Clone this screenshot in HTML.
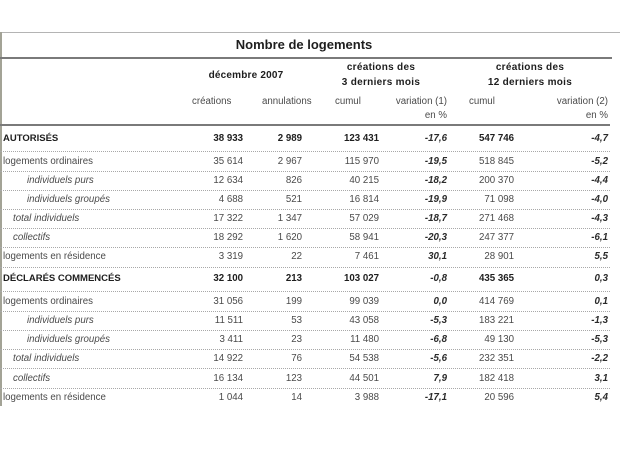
<!DOCTYPE html>
<html>
<head>
<meta charset="utf-8">
<style>
html,body{margin:0;padding:0;background:#fff;}
body{width:620px;height:465px;position:relative;overflow:hidden;font-family:"Liberation Sans",Arial,sans-serif;font-size:9.7px;color:#4a4a4a;}
.t{position:absolute;height:19px;line-height:19px;white-space:nowrap;}
.r{text-align:right;}
.b{font-weight:bold;color:#1e1e1e;}
.i{font-style:italic;}
.bi{font-weight:bold;font-style:italic;color:#2a2a2a;}
.hl{position:absolute;left:0;width:610px;height:0;}
.dot{border-top:1px dotted #a8a8a8;}
.sol{border-top:2px solid #7a7a7a;}
</style>
</head>
<body>
<!-- frame -->
<div style="position:absolute;left:0;top:32px;width:620px;height:0;border-top:1px solid #b4b4b4;"></div>
<div style="position:absolute;left:0;top:32px;width:2px;height:374px;background:#a3a396;"></div>

<!-- title -->
<div class="t b" style="left:0;width:608px;top:35px;text-align:center;font-size:13px;">Nombre de logements</div>
<div class="hl sol" style="top:57px;width:612px;"></div>

<!-- group headers -->
<div class="t b" style="left:196px;width:100px;top:66px;text-align:center;font-size:10px;letter-spacing:0.2px;">décembre 2007</div>
<div class="t b" style="left:331px;width:100px;top:58px;text-align:center;font-size:10px;letter-spacing:0.3px;">créations des</div>
<div class="t b" style="left:331px;width:100px;top:73px;text-align:center;font-size:10px;letter-spacing:0.3px;">3 derniers mois</div>
<div class="t b" style="left:480px;width:100px;top:58px;text-align:center;font-size:10px;letter-spacing:0.3px;">créations des</div>
<div class="t b" style="left:480px;width:100px;top:73px;text-align:center;font-size:10px;letter-spacing:0.3px;">12 derniers mois</div>

<!-- column headers -->
<div class="t" style="left:192px;top:92px;">créations</div>
<div class="t" style="left:262px;top:92px;">annulations</div>
<div class="t" style="left:335px;top:92px;">cumul</div>
<div class="t r" style="right:173px;top:92px;">variation (1)</div>
<div class="t r" style="right:173px;top:106px;">en %</div>
<div class="t" style="left:469px;top:92px;">cumul</div>
<div class="t r" style="right:12px;top:92px;">variation (2)</div>
<div class="t r" style="right:12px;top:106px;">en %</div>

<div class="hl sol" style="top:124px;"></div>

<!-- row lines -->
<div class="hl dot" style="top:151px;"></div>
<div class="hl dot" style="top:171px;"></div>
<div class="hl dot" style="top:190px;"></div>
<div class="hl dot" style="top:209px;"></div>
<div class="hl dot" style="top:228px;"></div>
<div class="hl dot" style="top:247px;"></div>
<div class="hl dot" style="top:267px;"></div>
<div class="hl dot" style="top:291px;"></div>
<div class="hl dot" style="top:311px;"></div>
<div class="hl dot" style="top:330px;"></div>
<div class="hl dot" style="top:349px;"></div>
<div class="hl dot" style="top:368px;"></div>
<div class="hl dot" style="top:388px;"></div>

<!-- Row: AUTORISÉS (center 138) -->
<div class="t b" style="left:3px;top:129px;font-size:9.5px;">AUTORISÉS</div>
<div class="t r b" style="right:377px;top:129px;">38 933</div>
<div class="t r b" style="right:318px;top:129px;">2 989</div>
<div class="t r b" style="right:241px;top:129px;">123 431</div>
<div class="t r bi" style="right:173px;top:129px;">-17,6</div>
<div class="t r b" style="right:106px;top:129px;">547 746</div>
<div class="t r bi" style="right:12px;top:129px;">-4,7</div>

<!-- logements ordinaires (162) -->
<div class="t" style="left:3px;top:152px;">logements ordinaires</div>
<div class="t r" style="right:377px;top:152px;">35 614</div>
<div class="t r" style="right:318px;top:152px;">2 967</div>
<div class="t r" style="right:241px;top:152px;">115 970</div>
<div class="t r bi" style="right:173px;top:152px;">-19,5</div>
<div class="t r" style="right:106px;top:152px;">518 845</div>
<div class="t r bi" style="right:12px;top:152px;">-5,2</div>

<!-- individuels purs (181) -->
<div class="t i" style="left:27px;top:171px;">individuels purs</div>
<div class="t r" style="right:377px;top:171px;">12 634</div>
<div class="t r" style="right:318px;top:171px;">826</div>
<div class="t r" style="right:241px;top:171px;">40 215</div>
<div class="t r bi" style="right:173px;top:171px;">-18,2</div>
<div class="t r" style="right:106px;top:171px;">200 370</div>
<div class="t r bi" style="right:12px;top:171px;">-4,4</div>

<!-- individuels groupés (200) -->
<div class="t i" style="left:27px;top:190px;">individuels groupés</div>
<div class="t r" style="right:377px;top:190px;">4 688</div>
<div class="t r" style="right:318px;top:190px;">521</div>
<div class="t r" style="right:241px;top:190px;">16 814</div>
<div class="t r bi" style="right:173px;top:190px;">-19,9</div>
<div class="t r" style="right:106px;top:190px;">71 098</div>
<div class="t r bi" style="right:12px;top:190px;">-4,0</div>

<!-- total individuels (219) -->
<div class="t i" style="left:13px;top:209px;">total individuels</div>
<div class="t r" style="right:377px;top:209px;">17 322</div>
<div class="t r" style="right:318px;top:209px;">1 347</div>
<div class="t r" style="right:241px;top:209px;">57 029</div>
<div class="t r bi" style="right:173px;top:209px;">-18,7</div>
<div class="t r" style="right:106px;top:209px;">271 468</div>
<div class="t r bi" style="right:12px;top:209px;">-4,3</div>

<!-- collectifs (238) -->
<div class="t i" style="left:13px;top:228px;">collectifs</div>
<div class="t r" style="right:377px;top:228px;">18 292</div>
<div class="t r" style="right:318px;top:228px;">1 620</div>
<div class="t r" style="right:241px;top:228px;">58 941</div>
<div class="t r bi" style="right:173px;top:228px;">-20,3</div>
<div class="t r" style="right:106px;top:228px;">247 377</div>
<div class="t r bi" style="right:12px;top:228px;">-6,1</div>

<!-- logements en résidence (257) -->
<div class="t" style="left:3px;top:247px;">logements en résidence</div>
<div class="t r" style="right:377px;top:247px;">3 319</div>
<div class="t r" style="right:318px;top:247px;">22</div>
<div class="t r" style="right:241px;top:247px;">7 461</div>
<div class="t r bi" style="right:173px;top:247px;">30,1</div>
<div class="t r" style="right:106px;top:247px;">28 901</div>
<div class="t r bi" style="right:12px;top:247px;">5,5</div>

<!-- DÉCLARÉS COMMENCÉS (279) -->
<div class="t b" style="left:3px;top:269px;font-size:9.5px;">DÉCLARÉS COMMENCÉS</div>
<div class="t r b" style="right:377px;top:269px;">32 100</div>
<div class="t r b" style="right:318px;top:269px;">213</div>
<div class="t r b" style="right:241px;top:269px;">103 027</div>
<div class="t r bi" style="right:173px;top:269px;">-0,8</div>
<div class="t r b" style="right:106px;top:269px;">435 365</div>
<div class="t r bi" style="right:12px;top:269px;">0,3</div>

<!-- logements ordinaires (302) -->
<div class="t" style="left:3px;top:292px;">logements ordinaires</div>
<div class="t r" style="right:377px;top:292px;">31 056</div>
<div class="t r" style="right:318px;top:292px;">199</div>
<div class="t r" style="right:241px;top:292px;">99 039</div>
<div class="t r bi" style="right:173px;top:292px;">0,0</div>
<div class="t r" style="right:106px;top:292px;">414 769</div>
<div class="t r bi" style="right:12px;top:292px;">0,1</div>

<!-- individuels purs (321) -->
<div class="t i" style="left:27px;top:311px;">individuels purs</div>
<div class="t r" style="right:377px;top:311px;">11 511</div>
<div class="t r" style="right:318px;top:311px;">53</div>
<div class="t r" style="right:241px;top:311px;">43 058</div>
<div class="t r bi" style="right:173px;top:311px;">-5,3</div>
<div class="t r" style="right:106px;top:311px;">183 221</div>
<div class="t r bi" style="right:12px;top:311px;">-1,3</div>

<!-- individuels groupés (340) -->
<div class="t i" style="left:27px;top:330px;">individuels groupés</div>
<div class="t r" style="right:377px;top:330px;">3 411</div>
<div class="t r" style="right:318px;top:330px;">23</div>
<div class="t r" style="right:241px;top:330px;">11 480</div>
<div class="t r bi" style="right:173px;top:330px;">-6,8</div>
<div class="t r" style="right:106px;top:330px;">49 130</div>
<div class="t r bi" style="right:12px;top:330px;">-5,3</div>

<!-- total individuels (359) -->
<div class="t i" style="left:13px;top:349px;">total individuels</div>
<div class="t r" style="right:377px;top:349px;">14 922</div>
<div class="t r" style="right:318px;top:349px;">76</div>
<div class="t r" style="right:241px;top:349px;">54 538</div>
<div class="t r bi" style="right:173px;top:349px;">-5,6</div>
<div class="t r" style="right:106px;top:349px;">232 351</div>
<div class="t r bi" style="right:12px;top:349px;">-2,2</div>

<!-- collectifs (379) -->
<div class="t i" style="left:13px;top:369px;">collectifs</div>
<div class="t r" style="right:377px;top:369px;">16 134</div>
<div class="t r" style="right:318px;top:369px;">123</div>
<div class="t r" style="right:241px;top:369px;">44 501</div>
<div class="t r bi" style="right:173px;top:369px;">7,9</div>
<div class="t r" style="right:106px;top:369px;">182 418</div>
<div class="t r bi" style="right:12px;top:369px;">3,1</div>

<!-- logements en résidence (398) -->
<div class="t" style="left:3px;top:388px;">logements en résidence</div>
<div class="t r" style="right:377px;top:388px;">1 044</div>
<div class="t r" style="right:318px;top:388px;">14</div>
<div class="t r" style="right:241px;top:388px;">3 988</div>
<div class="t r bi" style="right:173px;top:388px;">-17,1</div>
<div class="t r" style="right:106px;top:388px;">20 596</div>
<div class="t r bi" style="right:12px;top:388px;">5,4</div>
</body>
</html>
